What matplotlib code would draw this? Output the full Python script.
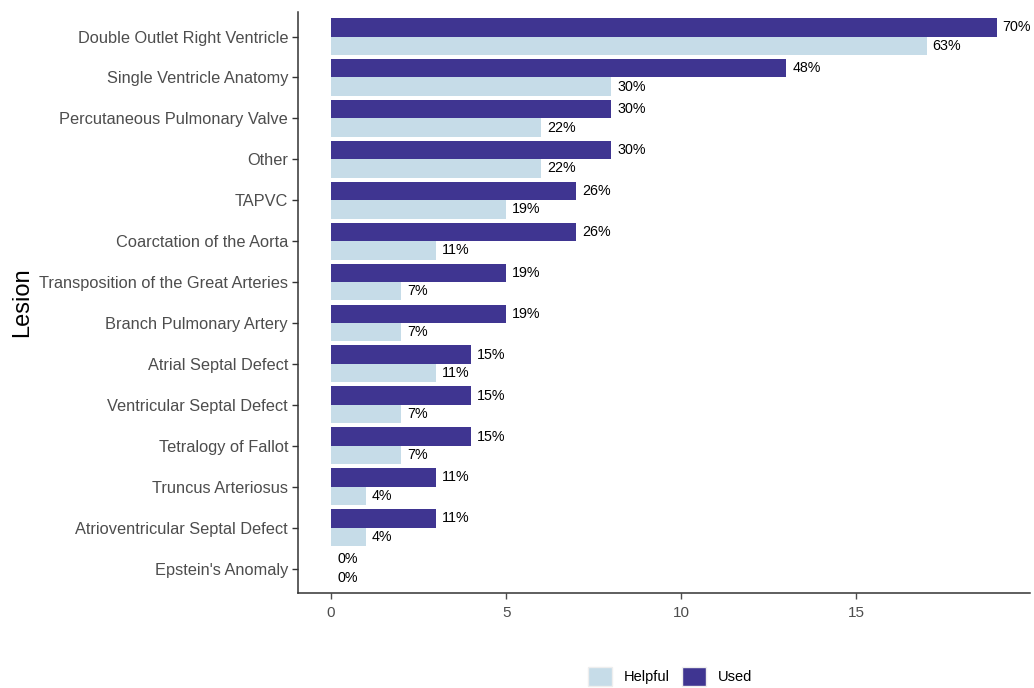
import matplotlib
matplotlib.use("Agg")
from matplotlib import pyplot as plt
from matplotlib.patches import Patch

plt.rcParams['font.family'] = ['Liberation Sans', 'DejaVu Sans']

lesions = ['Double Outlet Right Ventricle', 'Single Ventricle Anatomy', 'Percutaneous Pulmonary Valve',
           'Other', 'TAPVC', 'Coarctation of the Aorta', 'Transposition of the Great Arteries',
           'Branch Pulmonary Artery', 'Atrial Septal Defect', 'Ventricular Septal Defect',
           'Tetralogy of Fallot', 'Truncus Arteriosus', 'Atrioventricular Septal Defect', "Epstein's Anomaly"]
used = [19, 13, 8, 8, 7, 7, 5, 5, 4, 4, 4, 3, 3, 0]
helpful = [17, 8, 6, 6, 5, 3, 2, 2, 3, 2, 2, 1, 1, 0]
used_pct = ['70%', '48%', '30%', '30%', '26%', '26%', '19%', '19%', '15%', '15%', '15%', '11%', '11%', '0%']
helpful_pct = ['63%', '30%', '22%', '22%', '19%', '11%', '7%', '7%', '11%', '7%', '7%', '4%', '4%', '0%']

c_used = '#3f3591'
c_help = '#c6dce8'

fig = plt.figure(figsize=(10.34, 6.88), dpi=100)
ax = fig.add_axes([0.288, 0.138, 0.708, 0.8446])

n = len(lesions)
ypos = [n - 1 - i for i in range(n)]
h = 0.45
ax.barh([y + h / 2 for y in ypos], used, height=h, color=c_used)
ax.barh([y - h / 2 for y in ypos], helpful, height=h, color=c_help)

for y, v, t in zip(ypos, used, used_pct):
    ax.text(v + 0.17, y + h / 2, t, ha='left', va='center', fontsize=10.3, color='black')
for y, v, t in zip(ypos, helpful, helpful_pct):
    ax.text(v + 0.17, y - h / 2, t, ha='left', va='center', fontsize=10.3, color='black')

ax.set_xlim(-0.95, 19.95)
ax.set_ylim(-0.6, n - 0.4)
ax.set_yticks(ypos)
ax.set_yticklabels(lesions, fontsize=11.8, color='#4d4d4d')
ax.set_xticks([0, 5, 10, 15])
ax.tick_params(axis='x', labelsize=11, colors='#4d4d4d', length=4, width=1, pad=5)
ax.tick_params(axis='y', colors='#333333', length=4, width=1, pad=3)
for lab in ax.get_yticklabels():
    lab.set_color('#4d4d4d')
ax.set_ylabel('Lesion', fontsize=17, labelpad=4)
ax.spines['top'].set_visible(False)
ax.spines['right'].set_visible(False)
for s in ['left', 'bottom']:
    ax.spines[s].set_color('#333333')
    ax.spines[s].set_linewidth(1.1)

handles = [Patch(facecolor=c_help, edgecolor='#eeeeee', label='Helpful'),
           Patch(facecolor=c_used, edgecolor='#eeeeee', label='Used')]
fig.legend(handles=handles, loc='upper center', bbox_to_anchor=(0.648, 0.031), ncol=2, frameon=False,
           fontsize=10.5, handlelength=1.7, handleheight=1.7, columnspacing=0.8, handletextpad=0.8,
           borderaxespad=0, borderpad=0)

fig.savefig('out.png', dpi=100)
